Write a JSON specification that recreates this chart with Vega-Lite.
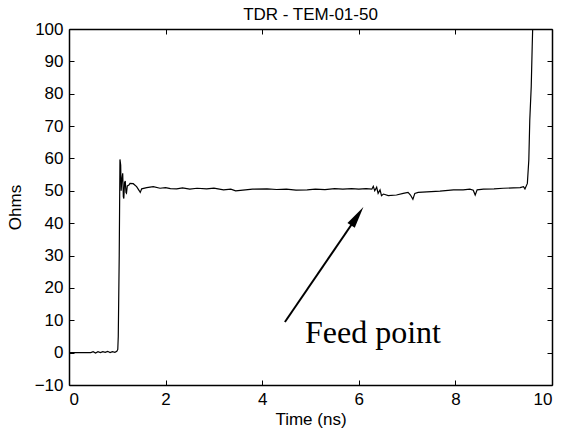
{
  "$schema": "https://vega.github.io/schema/vega-lite/v6.json",
  "width": 483,
  "height": 356,
  "autosize": {"type": "none"},
  "padding": {"left": 69, "top": 29, "right": 13, "bottom": 48},
  "background": "white",
  "title": {"text": "TDR - TEM-01-50", "fontSize": 17, "fontWeight": "normal", "font": "Liberation Sans", "anchor": "middle", "offset": -4, "color": "#000"},
  "config": {
    "view": {"stroke": null},
    "axis": {
      "grid": false,
      "domainColor": "#000",
      "domainWidth": 1.5,
      "tickColor": "#000",
      "tickWidth": 1,
      "tickSize": -5,
      "labelPadding": 11,
      "labelFont": "Liberation Sans",
      "labelFontSize": 17,
      "labelColor": "#000",
      "titleFont": "Liberation Sans",
      "titleFontSize": 17,
      "titleFontWeight": "normal",
      "titleColor": "#000"
    }
  },
  "datasets": {
    "tdr": [
      {"t": 0, "ohms": 0}, {"t": 0.45, "ohms": 0}, {"t": 0.5, "ohms": 0.3}, {"t": 0.55, "ohms": -0.1}, {"t": 0.6, "ohms": 0.3},
      {"t": 0.65, "ohms": 0}, {"t": 0.7, "ohms": 0.3}, {"t": 0.75, "ohms": 0.1}, {"t": 0.8, "ohms": 0.4}, {"t": 0.85, "ohms": 0},
      {"t": 0.9, "ohms": 0.3}, {"t": 0.95, "ohms": 0.1}, {"t": 0.99, "ohms": 0.4}, {"t": 1.01, "ohms": 1}, {"t": 1.02, "ohms": 5},
      {"t": 1.04, "ohms": 30}, {"t": 1.055, "ohms": 59.7}, {"t": 1.07, "ohms": 58}, {"t": 1.08, "ohms": 50}, {"t": 1.09, "ohms": 52.8},
      {"t": 1.112, "ohms": 55.4}, {"t": 1.125, "ohms": 48.2}, {"t": 1.135, "ohms": 47.6}, {"t": 1.15, "ohms": 52.5}, {"t": 1.165, "ohms": 53},
      {"t": 1.18, "ohms": 49.5}, {"t": 1.19, "ohms": 49.3}, {"t": 1.207, "ohms": 51.5}, {"t": 1.24, "ohms": 51.8}, {"t": 1.263, "ohms": 52.3},
      {"t": 1.33, "ohms": 52.2}, {"t": 1.4, "ohms": 51.3}, {"t": 1.456, "ohms": 50}, {"t": 1.475, "ohms": 49.5}, {"t": 1.505, "ohms": 50.6},
      {"t": 1.61, "ohms": 51.0}, {"t": 1.745, "ohms": 51.3}, {"t": 1.884, "ohms": 50.8}, {"t": 2.0, "ohms": 51.0}, {"t": 2.1, "ohms": 50.7},
      {"t": 2.23, "ohms": 50.6}, {"t": 2.35, "ohms": 50.9}, {"t": 2.5, "ohms": 50.5}, {"t": 2.65, "ohms": 50.8}, {"t": 2.85, "ohms": 50.6},
      {"t": 3.0, "ohms": 50.8}, {"t": 3.2, "ohms": 50.3}, {"t": 3.35, "ohms": 50.5}, {"t": 3.45, "ohms": 50.0}, {"t": 3.6, "ohms": 50.2},
      {"t": 3.8, "ohms": 50.5}, {"t": 4.1, "ohms": 50.6}, {"t": 4.3, "ohms": 50.4}, {"t": 4.5, "ohms": 50.5}, {"t": 4.7, "ohms": 50.2},
      {"t": 4.93, "ohms": 50.3}, {"t": 5.1, "ohms": 50.5}, {"t": 5.3, "ohms": 50.4}, {"t": 5.5, "ohms": 50.7}, {"t": 5.67, "ohms": 50.5},
      {"t": 5.85, "ohms": 50.7}, {"t": 6.0, "ohms": 50.5}, {"t": 6.15, "ohms": 50.7}, {"t": 6.27, "ohms": 50.5}, {"t": 6.3, "ohms": 51.4},
      {"t": 6.33, "ohms": 50.0}, {"t": 6.37, "ohms": 51.1}, {"t": 6.4, "ohms": 49.2}, {"t": 6.44, "ohms": 50.3}, {"t": 6.47, "ohms": 48.5},
      {"t": 6.51, "ohms": 49.0}, {"t": 6.61, "ohms": 48.5}, {"t": 6.78, "ohms": 48.7}, {"t": 6.92, "ohms": 49.2}, {"t": 7.02, "ohms": 49.5},
      {"t": 7.07, "ohms": 48.7}, {"t": 7.12, "ohms": 47.4}, {"t": 7.16, "ohms": 49.2}, {"t": 7.23, "ohms": 49.5}, {"t": 7.41, "ohms": 49.7},
      {"t": 7.68, "ohms": 49.9}, {"t": 7.96, "ohms": 50.3}, {"t": 8.16, "ohms": 50.3}, {"t": 8.3, "ohms": 50.5}, {"t": 8.37, "ohms": 50.2},
      {"t": 8.41, "ohms": 48.7}, {"t": 8.45, "ohms": 50.3}, {"t": 8.58, "ohms": 50.5}, {"t": 8.8, "ohms": 50.6}, {"t": 8.99, "ohms": 50.8},
      {"t": 9.2, "ohms": 50.9}, {"t": 9.34, "ohms": 51.0}, {"t": 9.41, "ohms": 51.3}, {"t": 9.44, "ohms": 50.6}, {"t": 9.49, "ohms": 52.3},
      {"t": 9.52, "ohms": 59.5}, {"t": 9.54, "ohms": 71.9}, {"t": 9.57, "ohms": 82.2}, {"t": 9.59, "ohms": 94.5}, {"t": 9.605, "ohms": 103}
    ],
    "arrow": [{"t": 4.47, "ohms": 9.47, "t2": 5.968, "ohms2": 42.15}],
    "head": [{"t": 5.968, "ohms": 42.15}],
    "note": [{"t": 4.886, "ohms": 2.98, "label": "Feed point"}]
  },
  "layer": [
    {
      "data": {"name": "tdr"},
      "mark": {"type": "line", "color": "#000", "strokeWidth": 1.2, "clip": true},
      "encoding": {
        "x": {"field": "t", "type": "quantitative", "scale": {"domain": [0, 10], "nice": false}, "axis": {"orient": "bottom", "title": "Time (ns)", "values": [0, 2, 4, 6, 8, 10], "titlePadding": 4}},
        "y": {"field": "ohms", "type": "quantitative", "scale": {"domain": [-10, 100], "nice": false, "zero": false}, "axis": {"orient": "left", "title": "Ohms", "values": [-10, 0, 10, 20, 30, 40, 50, 60, 70, 80, 90, 100], "titlePadding": 10}}
      }
    },
    {
      "data": {"name": "arrow"},
      "mark": {"type": "rule", "color": "#000", "strokeWidth": 2},
      "encoding": {
        "x": {"field": "t", "type": "quantitative", "scale": {"domain": [0, 10], "nice": false}, "axis": {"orient": "top", "labels": false, "title": null, "values": [0, 2, 4, 6, 8, 10]}},
        "x2": {"field": "t2"},
        "y": {"field": "ohms", "type": "quantitative", "scale": {"domain": [-10, 100], "nice": false, "zero": false}, "axis": {"orient": "right", "labels": false, "title": null, "values": [-10, 0, 10, 20, 30, 40, 50, 60, 70, 80, 90, 100]}},
        "y2": {"field": "ohms2"}
      }
    },
    {
      "data": {"name": "head"},
      "mark": {"type": "point", "shape": "M0,-1L0.4,1L-0.4,1Z", "size": 484, "angle": 34, "filled": true, "color": "#000", "opacity": 1},
      "encoding": {
        "x": {"field": "t", "type": "quantitative", "axis": null},
        "y": {"field": "ohms", "type": "quantitative", "axis": null}
      }
    },
    {
      "data": {"name": "note"},
      "mark": {"type": "text", "font": "Liberation Serif", "fontSize": 32, "align": "left", "baseline": "alphabetic", "color": "#000"},
      "encoding": {
        "x": {"field": "t", "type": "quantitative", "axis": null},
        "y": {"field": "ohms", "type": "quantitative", "axis": null},
        "text": {"field": "label"}
      }
    }
  ],
  "resolve": {"axis": {"x": "independent", "y": "independent"}}
}
